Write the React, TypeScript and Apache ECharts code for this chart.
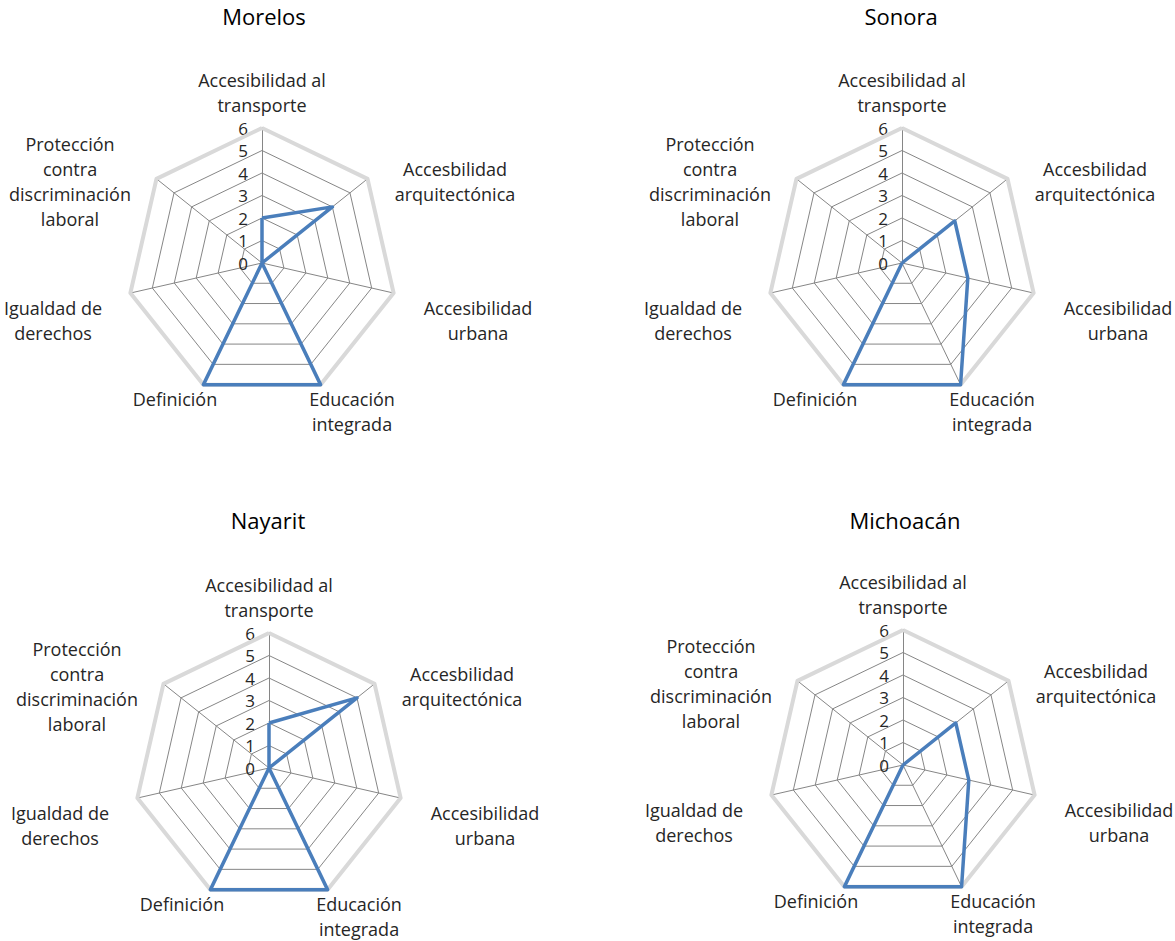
import { useEffect, useRef } from 'react';
import * as echarts from 'echarts';

// Panels: one radar per state
const STATES = ['Morelos', 'Sonora', 'Nayarit', 'Michoacán'];

// Radar axes, listed clockwise from the top
const CATEGORIES = [
  'Accesibilidad al\ntransporte',
  'Accesbilidad\narquitectónica',
  'Accesibilidad\nurbana',
  'Educación\nintegrada',
  'Definición',
  'Igualdad de\nderechos',
  'Protección\ncontra\ndiscriminación\nlaboral',
];

// Scores per state, same order as CATEGORIES
const MORELOS = [2, 4, 0, 6, 6, 0, 0];
const SONORA = [0, 3, 3, 6, 6, 0, 0];
const NAYARIT = [2, 5, 0, 6, 6, 0, 0];
const MICHOACAN = [0, 3, 3, 6, 6, 0, 0];

const SCALE_MIN = 0;
const SCALE_MAX = 6;
const SCALE_STEPS = 6;

const VALUES = [MORELOS, SONORA, NAYARIT, MICHOACAN];

// Layout: top vertex of each radar and title anchor
const PANEL_TOP = [
  [262, 128],
  [902, 128],
  [269, 633],
  [903, 630],
];
const TITLE_POS = [
  [264, 5],
  [901, 5],
  [268, 509],
  [905, 509],
];
const RADIUS = 135;

// Axis-name offsets from the top vertex, per category
const NAME_OFFSET = [
  [0, -36],
  [193, 53],
  [216, 192],
  [90, 283],
  [-87, 271],
  [-209, 192],
  [-192, 53],
];

const FONT = '"Open Sans", Lato, sans-serif';
const TEXT_COLOR = '#262626';
const LINE_BLUE = '#4a7ebb';
const GRID_GRAY = '#868686';
const RIM_GRAY = '#d9d9d9';

// ECharts lays indicators out counter-clockwise; reorder so they run clockwise
const ORDER = CATEGORIES.map((_, i) => (i === 0 ? 0 : CATEGORIES.length - i));

function buildOption() {
  const radar = PANEL_TOP.map(([tx, ty]) => ({
    center: [tx, ty + RADIUS],
    radius: RADIUS,
    startAngle: 90,
    splitNumber: SCALE_STEPS,
    shape: 'polygon',
    indicator: ORDER.map((i) => ({
      name: CATEGORIES[i],
      min: SCALE_MIN,
      max: SCALE_MAX,
      ...(i === 0
        ? {
            axisLabel: {
              show: true,
              color: TEXT_COLOR,
              fontFamily: FONT,
              fontSize: 17,
              margin: 14,
            },
          }
        : {}),
    })),
    axisName: { show: false },
    axisLine: { show: true, lineStyle: { color: GRID_GRAY, width: 1 } },
    splitLine: { show: true, lineStyle: { color: GRID_GRAY, width: 1 } },
    splitArea: { show: false },
    axisTick: { show: false },
    axisLabel: { show: false },
  }));

  const series: any[] = [];
  VALUES.forEach((vals, p) => {
    series.push({
      type: 'radar',
      radarIndex: p,
      silent: true,
      symbol: 'none',
      z: 2,
      lineStyle: { color: RIM_GRAY, width: 4 },
      data: [{ value: ORDER.map(() => SCALE_MAX), name: 'max' }],
    });
    series.push({
      type: 'radar',
      radarIndex: p,
      symbol: 'none',
      z: 3,
      lineStyle: { color: LINE_BLUE, width: 3.5 },
      data: [{ value: ORDER.map((i) => vals[i]), name: STATES[p] }],
    });
  });

  const names: any[] = [];
  PANEL_TOP.forEach(([tx, ty]) => {
    CATEGORIES.forEach((label, i) => {
      names.push({
        type: 'text',
        x: tx + NAME_OFFSET[i][0],
        y: ty + NAME_OFFSET[i][1],
        silent: true,
        style: {
          text: label,
          fill: TEXT_COLOR,
          fontFamily: FONT,
          fontSize: 18,
          lineHeight: 25,
          align: 'center',
          verticalAlign: 'middle',
        },
      });
    });
  });

  return {
    animation: false,
    backgroundColor: '#ffffff',
    title: STATES.map((s, p) => ({
      text: s,
      left: TITLE_POS[p][0],
      top: TITLE_POS[p][1],
      padding: 0,
      textAlign: 'center',
      textStyle: {
        color: '#000000',
        fontFamily: FONT,
        fontSize: 22,
        fontWeight: 'normal',
      },
    })),
    radar,
    series,
    graphic: names,
  };
}

export default function App() {
  const ref = useRef<HTMLDivElement>(null);
  useEffect(() => {
    if (!ref.current) return;
    const chart = echarts.init(ref.current, undefined, { renderer: 'svg' });
    chart.setOption(buildOption());
    return () => chart.dispose();
  }, []);
  return (
    <div
      ref={ref}
      style={{ position: 'fixed', left: 0, top: 0, width: 1175, height: 941, background: '#fff' }}
    />
  );
}
